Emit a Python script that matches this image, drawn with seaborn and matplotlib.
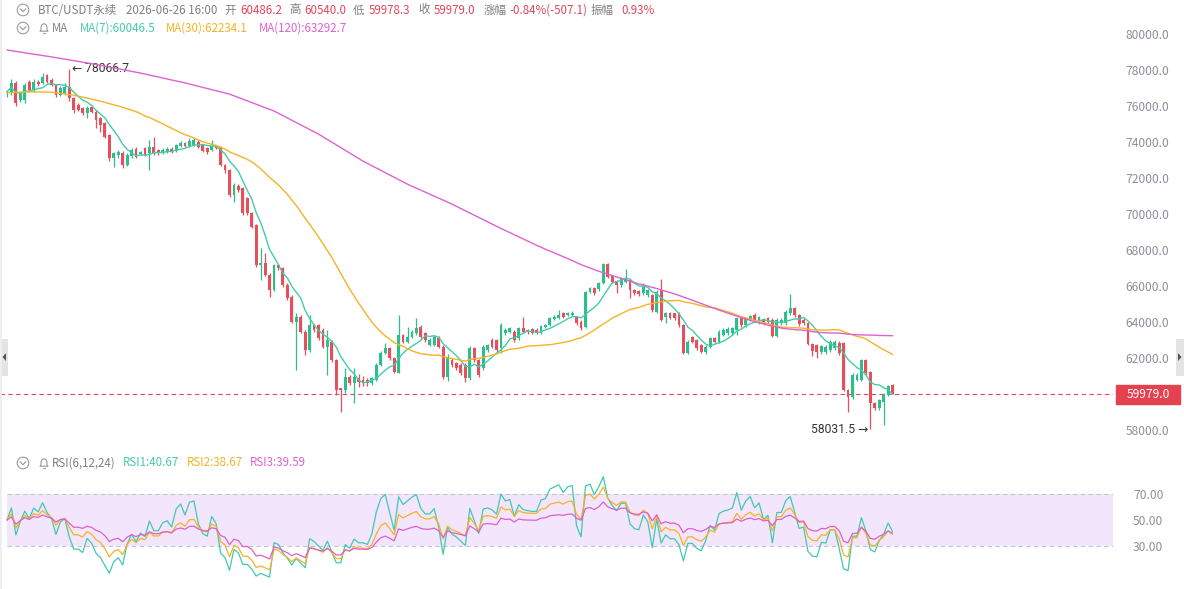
import numpy as np
import pandas as pd
import matplotlib
matplotlib.use("Agg")
import matplotlib.pyplot as plt
import seaborn as sns
from matplotlib.patches import Rectangle, Circle, Polygon
from matplotlib.lines import Line2D
from matplotlib.transforms import blended_transform_factory

# ---------------- data ----------------
opens = [76700, 76700, 77260, 76330, 76330, 77350, 76890, 77350, 77260, 77700,
         77450, 77170, 76610, 76700, 77070, 76430, 76060, 75870, 75590, 75960,
         75690, 75320, 75040, 74390, 73090, 73270, 73410, 72720, 73200, 73590,
         73360, 73650, 73370, 73700, 73550, 73400, 73440, 73590, 73520, 73780,
         73930, 73780, 73830, 74000, 73830, 73650, 73550, 73740, 73700, 72720,
         72440, 71055, 71555, 71425, 70870, 70036, 69388, 67166, 67258, 66610,
         65776, 67166, 66980, 66054, 65406, 64017, 64295, 63462, 62443, 63832,
         63832, 63554, 62628, 62906, 61887, 60313, 60220, 60961, 60591, 60869,
         60776, 60776, 60591, 60776, 61610, 62295, 62536, 61980, 61184, 63276,
         62906, 63184, 63369, 63739, 63369, 62721, 62721, 63091, 62628, 60961,
         61888, 61703, 61611, 61611, 60870, 62537, 61888, 61425, 62444, 62999,
         62999, 62537, 63370, 63463, 63463, 63092, 63648, 63555, 63592, 63555,
         63407, 63703, 63833, 64148, 64203, 64481, 64389, 64389, 64296, 64018,
         63703, 65685, 65870, 65815, 66148, 67222, 66555, 66296, 66055, 66241,
         66333, 65778, 65741, 65593, 65500, 65500, 64574, 65778, 64296, 64481,
         64481, 64481, 63833, 62259, 63185, 63000, 62722, 62352, 62629, 63092,
         62907, 63278, 63370, 63370, 63555, 64204, 63833, 64111, 64389, 63980,
         64148, 64204, 64111, 63222, 63926, 63926, 64481, 64759, 64389, 64111,
         63926, 62778, 62722, 62352, 62352, 62444, 62537, 62852, 62852, 60222,
         59852, 60777, 60777, 61889, 61240, 59481, 59203, 59574, 59944, 60486.2]
highs = [76900, 77480, 77400, 76800, 77300, 77450, 77500, 77450, 77820, 77800,
         77550, 77250, 77100, 77300, 78066.7, 76500, 76150, 75950, 76000, 76050,
         75800, 75400, 75100, 74450, 73450, 73550, 73500, 73400, 73650, 73700,
         73520, 73750, 74110, 74260, 73620, 73650, 73700, 73700, 73900, 74050,
         74000, 74200, 74250, 74100, 73900, 73700, 74110, 73800, 73780, 72800,
         72500, 71700, 71650, 71500, 70950, 70100, 69450, 68092, 67814, 66700,
         67250, 67250, 67050, 66150, 65500, 64480, 64400, 63550, 64387, 63900,
         63900, 63650, 63554, 63000, 61950, 60350, 61424, 61050, 61424, 61100,
         61000, 60900, 60950, 61700, 62400, 62850, 62600, 62050, 64387, 63350,
         63739, 63550, 64200, 63850, 63450, 63100, 63300, 63200, 62700, 62200,
         62000, 61800, 61700, 61700, 62650, 62600, 61950, 62700, 62800, 63100,
         63050, 63950, 63650, 63750, 63550, 63700, 64296, 63600, 63650, 63650,
         63850, 63900, 64300, 64400, 64666, 64550, 64574, 64600, 64350, 64100,
         65750, 65950, 65950, 66250, 67300, 67300, 66600, 66350, 66500, 66926,
         66400, 65850, 65800, 66148, 65850, 65550, 65780, 66370, 64574, 64550,
         64520, 64550, 63900, 63000, 63250, 63050, 62800, 62700, 63150, 63150,
         63550, 63650, 63700, 63750, 64300, 64296, 64250, 64400, 64500, 64350,
         64250, 64300, 64200, 64200, 64200, 64650, 65556, 64850, 64450, 64200,
         64000, 62850, 62800, 62750, 62700, 63000, 63000, 62950, 62900, 60300,
         61150, 61150, 61950, 61950, 61300, 59550, 59750, 60050, 60500, 60540.0]
lows = [76500, 76610, 76000, 76200, 76150, 76800, 76800, 77100, 77200, 77300,
        77100, 76500, 76550, 76600, 76300, 75600, 75700, 75500, 75310, 75600,
        74760, 74570, 74200, 72950, 72630, 73100, 72540, 72650, 73100, 73100,
        73280, 73200, 72440, 73300, 73300, 73350, 73380, 73400, 73450, 73700,
        73720, 73720, 73780, 73680, 73450, 73350, 73500, 73600, 72650, 72300,
        70950, 70684, 71250, 69950, 69950, 69200, 67036, 66332, 66550, 65406,
        65700, 66900, 65950, 65250, 63950, 61332, 63400, 62165, 62350, 63450,
        63000, 62550, 61054, 61800, 59942, 59017, 60035, 60500, 59480, 60400,
        60450, 60450, 60500, 60700, 61550, 62250, 61900, 61150, 61150, 62850,
        62850, 63100, 63300, 63100, 62900, 62650, 62650, 62550, 60850, 60700,
        61500, 61350, 61050, 60685, 60800, 61800, 60962, 61350, 62350, 62550,
        62350, 62259, 63300, 63400, 62907, 63000, 63400, 63350, 63350, 63350,
        63350, 63650, 63780, 64100, 64150, 64250, 64350, 64350, 63850, 63550,
        63650, 65600, 65500, 65750, 66100, 66450, 66150, 65593, 65950, 66150,
        65315, 65500, 65450, 65500, 65400, 64550, 64500, 64050, 63950, 64150,
        64100, 63750, 62200, 62200, 62850, 62450, 62300, 62250, 62550, 62850,
        62850, 63200, 63300, 63300, 63300, 63750, 63750, 64050, 64050, 63900,
        63850, 63950, 63150, 63150, 63850, 63850, 64400, 64300, 63800, 63850,
        62700, 62100, 62000, 62200, 62250, 62350, 62450, 62150, 60150, 59018,
        59750, 60700, 60700, 61050, 58031.5, 59100, 59100, 58277, 59900, 59978.3]
closes = [76800, 77260, 76150, 76700, 77170, 76890, 77350, 77230, 77630, 77350,
          77170, 76610, 76980, 77070, 76430, 75780, 75780, 75590, 75870, 75690,
          75220, 74950, 74300, 73090, 73370, 73460, 72720, 73270, 73560, 73180,
          73420, 73280, 73700, 73370, 73370, 73550, 73590, 73460, 73830, 73960,
          73780, 74080, 74110, 73740, 73520, 73460, 73780, 73650, 72720, 72440,
          71060, 71610, 71332, 70036, 70036, 69295, 67166, 67258, 66610, 65776,
          67166, 66980, 66054, 65313, 64017, 64295, 63462, 62443, 63832, 63554,
          63091, 62628, 62998, 61887, 60220, 60220, 60961, 60591, 60961, 60684,
          60684, 60591, 60869, 61610, 62295, 62536, 61980, 61239, 63276, 62906,
          63184, 63462, 63647, 63184, 62998, 62998, 63184, 62628, 60961, 62072,
          61611, 61425, 61148, 60870, 62537, 61888, 61055, 62629, 62722, 62629,
          62444, 63833, 63555, 63648, 63000, 63648, 63463, 63426, 63407, 63407,
          63778, 63833, 64203, 64296, 64389, 64296, 64481, 64518, 63926, 63648,
          65685, 65870, 65593, 66148, 67222, 66518, 66241, 66055, 66426, 66426,
          65778, 65593, 65555, 65963, 65778, 64666, 65685, 64111, 64481, 64204,
          64204, 63833, 62259, 62907, 62907, 62537, 62352, 62629, 63092, 62907,
          63463, 63555, 63592, 63648, 64204, 63833, 64148, 64333, 64111, 64259,
          63926, 64018, 63222, 64111, 64111, 64574, 64759, 64389, 63889, 63926,
          62778, 62407, 62352, 62666, 62629, 62907, 62907, 62259, 60222, 59852,
          61055, 61055, 61889, 61148, 59481, 59203, 59666, 59944, 60444, 59979.0]

# moving-average values before enough visible history exists
ma30_head_idx = [0, 5, 10, 15, 20, 25]
ma30_head_vals = [76739, 76789, 76767, 76600, 76328, 76000]
ma120_head_idx = [0, 10, 20, 30, 40, 50, 60, 70, 80, 90, 100, 110]
ma120_head_vals = [79111, 78728, 78311, 77828, 77283, 76661, 75722, 74439, 72939, 71655,
                   70550, 69317]

price_ticks = [58000, 62000, 64000, 66000, 68000, 70000, 72000, 74000, 76000, 78000, 80000]
rsi_ticks = [30, 50, 70]
rsi_periods = [6, 12, 24]

# ---------------- style ----------------
sns.set_theme(style="white")
plt.rcParams["font.family"] = ["Noto Sans CJK SC", "DejaVu Sans"]

UP = "#2ebd8c"
DOWN = "#e5505c"
C_MA7 = "#45cbab"
C_MA30 = "#f5b325"
C_MA120 = "#de62d0"
GRAY_T = "#808080"
RED_T = "#e2465a"
TICK_C = "#8c9099"

W, H = 1184, 589
fig = plt.figure(figsize=(W / 100, H / 100), dpi=100, facecolor="white")

PLOT_R = 1113
def x2i(px):
    return (px - 7) / 4.45

ax = fig.add_axes([0, (H - 450) / H, PLOT_R / W, 450 / H])
axr = fig.add_axes([0, 0, PLOT_R / W, 139 / H])

n = len(closes)
idx = np.arange(n)
df = pd.DataFrame({"i": idx, "open": opens, "high": highs, "low": lows, "close": closes})
df["ma7"] = df["close"].rolling(7, min_periods=1).mean()
ma30_tail = df["close"].rolling(30).mean().dropna()
ma120_tail = df["close"].rolling(120).mean().dropna()
ma30 = pd.DataFrame({"i": ma30_head_idx + list(ma30_tail.index),
                     "v": ma30_head_vals + list(ma30_tail.values)})
ma120 = pd.DataFrame({"i": ma120_head_idx + list(ma120_tail.index),
                      "v": ma120_head_vals + list(ma120_tail.values)})

# ---------------- candles ----------------
for r in df.itertuples():
    col = UP if r.close >= r.open else DOWN
    ax.vlines(r.i, r.low, r.high, color=col, lw=0.9, zorder=2)
    h = max(abs(r.close - r.open), 50)
    ax.bar(r.i, h, bottom=min(r.open, r.close), width=0.64, color=col, lw=0, zorder=3)

sns.lineplot(x="i", y="ma7", data=df, ax=ax, color=C_MA7, lw=1.0, legend=False, zorder=4)
sns.lineplot(x="i", y="v", data=ma30, ax=ax, color=C_MA30, lw=1.0, legend=False, zorder=4)
sns.lineplot(x="i", y="v", data=ma120, ax=ax, color=C_MA120, lw=1.0, legend=False, zorder=4)

last = closes[-1]
ax.axhline(last, color=RED_T, lw=0.8, ls=(0, (4, 3)), zorder=1)

ax.set_xlim(x2i(0), x2i(PLOT_R))
ax.set_ylim(80000 - (450 - 34) / 0.018, 80000 + 34 / 0.018)
ax.set_yticks(price_ticks)
ax.set_yticklabels([f"{t:.1f}" for t in price_ticks])
ax.yaxis.tick_right()
ax.tick_params(axis="y", length=0, pad=9.2, labelsize=8.7, labelcolor=TICK_C)
ax.set_xticks([])
ax.set_xlabel("")
ax.set_ylabel("")
for s in ax.spines.values():
    s.set_visible(False)

# last price tag
bt = blended_transform_factory(ax.transAxes, ax.transData)
ax.add_patch(Rectangle((1116 / PLOT_R, last - 520), (1180 - 1116) / PLOT_R, 1040,
                       transform=bt, clip_on=False, color="#e5424f", zorder=5))
ax.text(1148 / PLOT_R, last, f"{last:.1f}", transform=bt, ha="center", va="center",
        color="white", fontsize=8.7, zorder=6, clip_on=False)

# extreme annotations
hi_i = int(np.argmax(highs))
lo_i = int(np.argmin(lows))
ANN_FONT = ["Roboto", "DejaVu Sans"]
ax.annotate(f"← {highs[hi_i]:.1f}", xy=(hi_i, highs[hi_i]), xytext=(2.0, 0),
            textcoords="offset points", ha="left", va="center", fontsize=8.7,
            color="#333333", family=ANN_FONT)
ax.annotate(f"{lows[lo_i]:.1f} →", xy=(lo_i, lows[lo_i]), xytext=(-1.5, 0),
            textcoords="offset points", ha="right", va="center", fontsize=8.7,
            color="#333333", family=ANN_FONT)

# ---------------- RSI (Wilder smoothing, neutral warm-up state) ----------------
delta = df["close"].diff().fillna(0)
gain = delta.clip(lower=0)
loss = (-delta).clip(lower=0)
gain.iloc[0] = 200.0
loss.iloc[0] = 200.0
rsi = pd.DataFrame({"i": idx})
for p in rsi_periods:
    g = gain.ewm(alpha=1 / p, adjust=False).mean()
    l = loss.ewm(alpha=1 / p, adjust=False).mean()
    rsi[f"rsi{p}"] = 100 * g / (g + l)

axr.fill_between([0, x2i(PLOT_R)], 30, 70, color="#f3e6fc", lw=0, zorder=0)
for lvl in (30, 70):
    axr.plot([0, x2i(PLOT_R)], [lvl, lvl], color="#c5c3cc", lw=0.8, ls=(0, (4, 3)), zorder=1)
sns.lineplot(x="i", y="rsi6", data=rsi, ax=axr, color="#40c9b2", lw=0.9, legend=False, zorder=3)
sns.lineplot(x="i", y="rsi12", data=rsi, ax=axr, color="#f5b325", lw=0.9, legend=False, zorder=3)
sns.lineplot(x="i", y="rsi24", data=rsi, ax=axr, color="#de5fcc", lw=0.9, legend=False, zorder=3)
axr.set_xlim(x2i(0), x2i(PLOT_R))
axr.set_ylim(50 - (589 - 520) / 1.3, 50 + (520 - 450) / 1.3)
axr.set_yticks(rsi_ticks)
axr.set_yticklabels([f"{t:.2f}" for t in rsi_ticks])
axr.yaxis.tick_right()
axr.tick_params(axis="y", length=0, pad=14.4, labelsize=8.7, labelcolor=TICK_C)
axr.set_xticks([])
axr.set_xlabel("")
axr.set_ylabel("")
for s in axr.spines.values():
    s.set_visible(False)

# ---------------- header / UI overlay (pixel coordinates) ----------------
ov = fig.add_axes([0, 0, 1, 1], zorder=10)
ov.set_xlim(0, W)
ov.set_ylim(H, 0)
ov.axis("off")
ov.patch.set_alpha(0)

def icon_circle(cy):
    ov.add_patch(Circle((23, cy), 5.8, fill=False, ec="#9a9a9a", lw=0.8))
    ov.add_line(Line2D([20, 23, 26], [cy - 1.3, cy + 1.7, cy - 1.3], color="#9a9a9a", lw=0.8))

def icon_bell(cx, cy):
    pts = [(-4.2, 3.2), (-3.0, 2.0), (-3.0, -1.0), (-2.0, -3.4), (0, -4.3),
           (2.0, -3.4), (3.0, -1.0), (3.0, 2.0), (4.2, 3.2)]
    ov.add_patch(Polygon([(cx + a, cy + b) for a, b in pts], closed=True, fill=False,
                         ec="#9a9a9a", lw=0.8))
    ov.add_line(Line2D([cx - 1.2, cx + 1.2], [cy + 4.6, cy + 4.6], color="#9a9a9a", lw=0.8))

FS = 8.3
line1 = [("BTC/USDT永续", 38.3, GRAY_T), ("2026-06-26 16:00", 126.3, GRAY_T),
         ("开", 223.9, GRAY_T), ("60486.2", 240, RED_T), ("高", 289, GRAY_T),
         ("60540.0", 304, RED_T), ("低", 353, GRAY_T), ("59978.3", 369, RED_T),
         ("收", 418, GRAY_T), ("59979.0", 433.6, RED_T), ("涨幅", 484, GRAY_T),
         ("-0.84%(-507.1)", 509, RED_T), ("振幅", 591, GRAY_T), ("0.93%", 621, RED_T)]
line2 = [("MA", 52, GRAY_T), ("MA(7):60046.5", 80, C_MA7),
         ("MA(30):62234.1", 165.5, C_MA30), ("MA(120):63292.7", 258.6, C_MA120)]
line3 = [("RSI(6,12,24)", 52, GRAY_T), ("RSI1:40.67", 122.6, C_MA7),
         ("RSI2:38.67", 186.6, C_MA30), ("RSI3:39.59", 250, C_MA120)]
for txt, x, c in line1:
    ov.text(x, 10, txt, color=c, fontsize=FS, ha="left", va="center")
for txt, x, c in line2:
    ov.text(x, 28, txt, color=c, fontsize=FS, ha="left", va="center")
for txt, x, c in line3:
    ov.text(x, 463, txt, color=c, fontsize=FS, ha="left", va="center")
icon_circle(10)
icon_circle(28)
icon_circle(463)
icon_bell(44, 28)
icon_bell(44, 463)

# side handles
ov.add_patch(Rectangle((0, 339), 8, 37, color="#e4e4e4", lw=0))
ov.add_patch(Polygon([(6, 353), (6, 361), (2.5, 357)], closed=True, color="#555555", lw=0))
ov.add_patch(Rectangle((1176, 339), 8, 37, color="#e4e4e4", lw=0))
ov.add_patch(Polygon([(1178, 353), (1178, 361), (1181.5, 357)], closed=True, color="#555555", lw=0))
ov.add_patch(Rectangle((0, 0), 2, H, color="#efefef", lw=0))

fig.savefig("out.png", dpi=100, facecolor="white")
